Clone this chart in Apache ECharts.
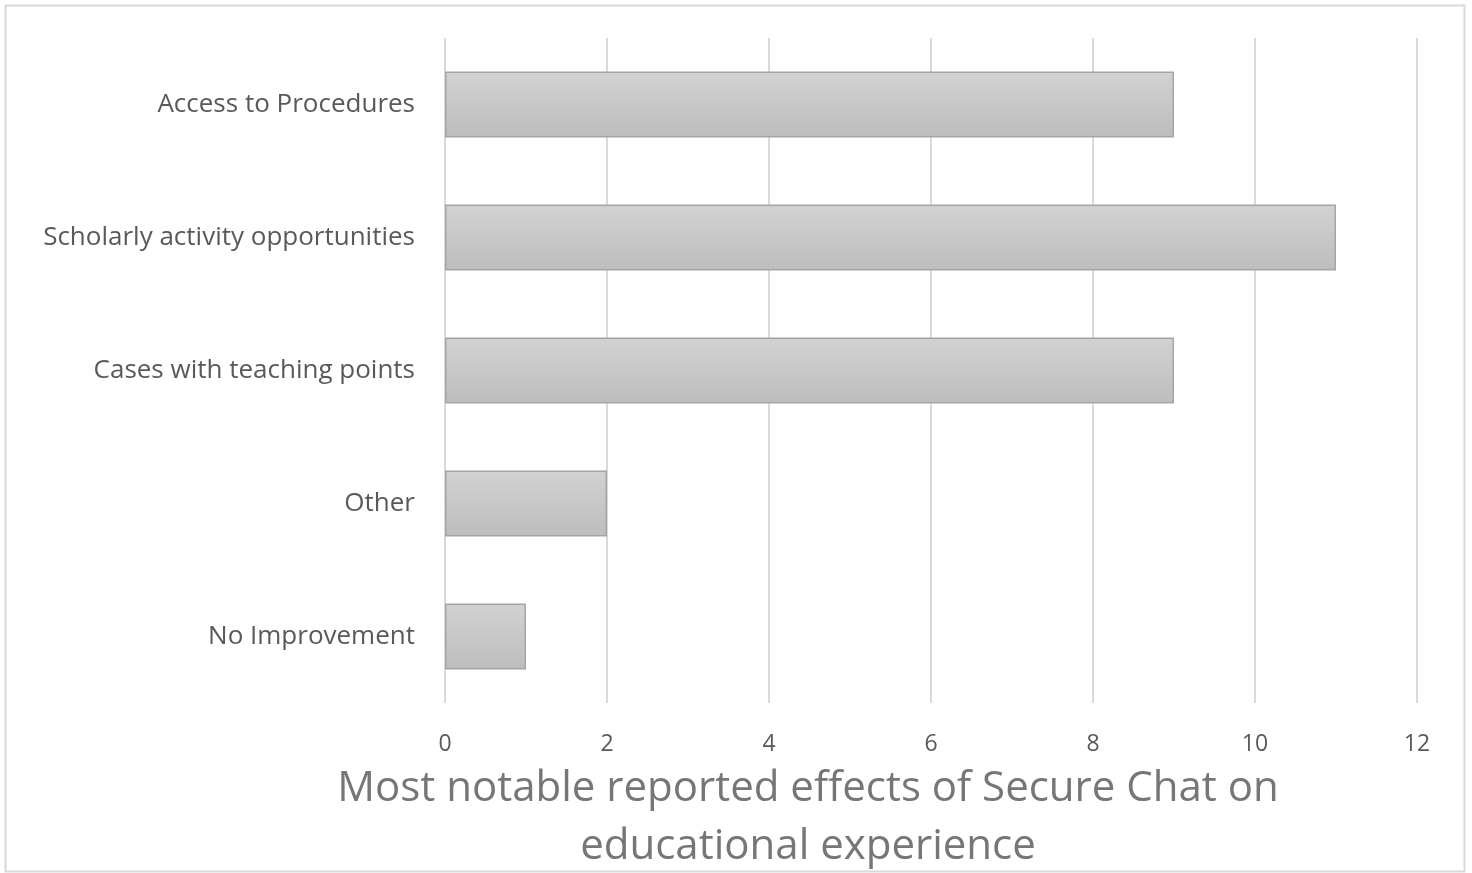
<!DOCTYPE html>
<html>
<head>
<meta charset="utf-8">
<script src="https://cdn.jsdelivr.net/npm/echarts@6/dist/echarts.min.js"></script>
<style>
  html, body { margin: 0; padding: 0; background: #fff; }
  #chart { width: 1472px; height: 873px; }
</style>
</head>
<body>
<div id="chart"></div>
<script>
// values, top to bottom
const categories = ['Access to Procedures', 'Scholarly activity opportunities', 'Cases with teaching points', 'Other', 'No Improvement'];
const counts = [9, 11, 9, 2, 1];
const titleText = 'Most notable reported effects of Secure Chat on\neducational experience';

const chart = echarts.init(document.getElementById('chart'));
const font = '"Open Sans", "Noto Sans", sans-serif';

chart.setOption({
    animation: false,
    textStyle: {fontFamily: font},
    title: {
        text: titleText,
        left: 803,
        textAlign: 'center',
        top: 755,
        textStyle: {
            fontFamily: font,
            fontSize: 42,
            lineHeight: 58,
            fontWeight: 'normal',
            color: '#767676'
        }
    },
    graphic: [{
        type: 'rect',
        shape: {x: 5.5, y: 5.5, width: 1459, height: 866},
        style: {fill: 'none', stroke: '#d9d9d9', lineWidth: 2}
    }],
    grid: {left: 445, right: 55, top: 38, bottom: 170, containLabel: false},
    xAxis: {
        type: 'value',
        min: 0,
        max: 12,
        interval: 2,
        axisLine: {show: false},
        axisTick: {show: false},
        splitLine: {lineStyle: {color: '#d9d9d9', width: 2}},
        axisLabel: {fontSize: 23, color: '#595959', margin: 30, fontFamily: font}
    },
    yAxis: {
        type: 'category',
        inverse: true,
        data: categories,
        axisLine: {show: false},
        axisTick: {show: false},
        axisLabel: {fontSize: 26, color: '#595959', margin: 30, fontFamily: font}
    },
    series: [{
        type: 'bar',
        data: counts,
        barWidth: 66,
        itemStyle: {
            color: new echarts.graphic.LinearGradient(0, 0, 0, 1, [
                {offset: 0, color: '#d2d2d2'},
                {offset: 1, color: '#bdbdbd'}
            ]),
            borderColor: '#a5a5a5',
            borderWidth: 1.5
        }
    }]
});
</script>
</body>
</html>
